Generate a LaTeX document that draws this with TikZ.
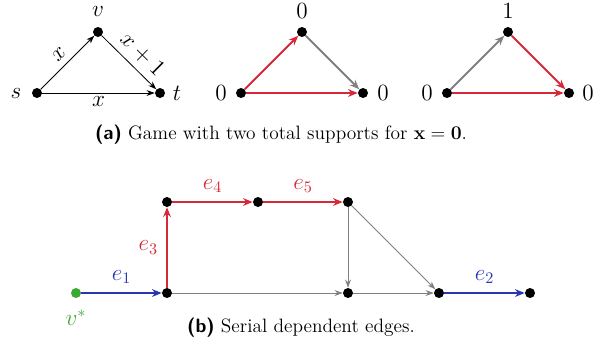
\documentclass[tikz,border=0pt]{standalone}
\usepackage{amsmath}
\usetikzlibrary{arrows.meta}
\definecolor{myred}{RGB}{214,40,57}
\definecolor{myblue}{RGB}{40,55,175}
\definecolor{mygreen}{RGB}{60,170,50}
\definecolor{mygray}{RGB}{128,128,128}
\begin{document}
\begin{tikzpicture}[x=0.62pt,y=-0.62pt,
 dot/.style={circle,fill=black,inner sep=0pt,minimum size=6.2pt},
 lbl/.style={font=\fontsize{14.5}{17}\selectfont},
 captext/.style={font=\fontsize{12}{14}\selectfont},
 blk/.style={-{Stealth[length=5pt,width=3.6pt,inset=1.6pt]},line width=0.5pt},
 redarr/.style={-{Stealth[length=6pt,width=4.8pt,inset=2pt]},line width=1.2pt,draw=myred},
 grayarr/.style={-{Stealth[length=6pt,width=4.8pt,inset=2pt]},line width=1.2pt,draw=mygray},
 bluearr/.style={-{Stealth[length=6pt,width=4.8pt,inset=2pt]},line width=1.2pt,draw=myblue},
 thingray/.style={-{Stealth[length=5pt,width=3.6pt,inset=1.6pt]},line width=0.5pt,draw=mygray},
]
\useasboundingbox (0,0) rectangle (597,351);
% triangle 1
\node[dot] (s) at (37,93) {};
\node[dot] (v) at (98,32) {};
\node[dot] (t) at (160,93) {};
\node[lbl] (sl) at (16,93) {$s$};
\node[lbl] (vl) at (98,11) {$v$};
\node[lbl] (tl) at (177,93) {$t$};
\draw[blk] (s) -- node[lbl,sloped,above,inner sep=4pt] {$x$} (v);
\draw[blk] (v) -- node[lbl,sloped,above,inner sep=4pt,pos=0.55] {$x+1$} (t);
\draw[blk] (s) -- node[lbl,below,inner sep=2pt] {$x$} (t);
% triangle 2
\node[dot] (a1) at (241,93) {};
\node[dot] (a2) at (302,32) {};
\node[dot] (a3) at (363,93) {};
\node[lbl] (a1l) at (221,93) {$0$};
\node[lbl] (a2l) at (302,11) {$0$};
\node[lbl] (a3l) at (383,93) {$0$};
\draw[redarr] (a1) -- (a2);
\draw[grayarr] (a2) -- (a3);
\draw[redarr] (a1) -- (a3);
% triangle 3
\node[dot] (b1) at (447,93) {};
\node[dot] (b2) at (508,32) {};
\node[dot] (b3) at (569,93) {};
\node[lbl] (b1l) at (427,93) {$0$};
\node[lbl] (b2l) at (508,11) {$1$};
\node[lbl] (b3l) at (588,93) {$0$};
\draw[grayarr] (b1) -- (b2);
\draw[redarr] (b2) -- (b3);
\draw[redarr] (b1) -- (b3);
\node[captext] (capa) at (281,135) {\textsf{\bfseries (a)} Game with two total supports for $\mathbf{x}=\mathbf{0}$.};
% bottom
\node[dot,fill=mygreen] (vs) at (76,293) {};
\node[dot] (c1) at (167,293) {};
\node[dot] (c2) at (167,202) {};
\node[dot] (c3) at (258,202) {};
\node[dot] (c4) at (348,202) {};
\node[dot] (c5) at (348,293) {};
\node[dot] (c6) at (439,293) {};
\node[dot] (c7) at (530,293) {};
\node[lbl,text=mygreen] (vsl) at (76,318) {$v^*$};
\draw[bluearr] (vs) -- node[lbl,above,inner sep=5pt,text=myblue] {$e_1$} (c1);
\draw[redarr] (c1) -- node[lbl,left,inner sep=5pt,text=myred] {$e_3$} (c2);
\draw[redarr] (c2) -- node[lbl,above,inner sep=5pt,text=myred] {$e_4$} (c3);
\draw[redarr] (c3) -- node[lbl,above,inner sep=5pt,text=myred] {$e_5$} (c4);
\draw[thingray] (c1) -- (c5);
\draw[thingray] (c4) -- (c5);
\draw[thingray] (c4) -- (c6);
\draw[thingray] (c5) -- (c6);
\draw[bluearr] (c6) -- node[lbl,above,inner sep=5pt,text=myblue] {$e_2$} (c7);
\node[captext] (capb) at (301,328) {\textsf{\bfseries (b)} Serial dependent edges.};
\end{tikzpicture}
\end{document}
